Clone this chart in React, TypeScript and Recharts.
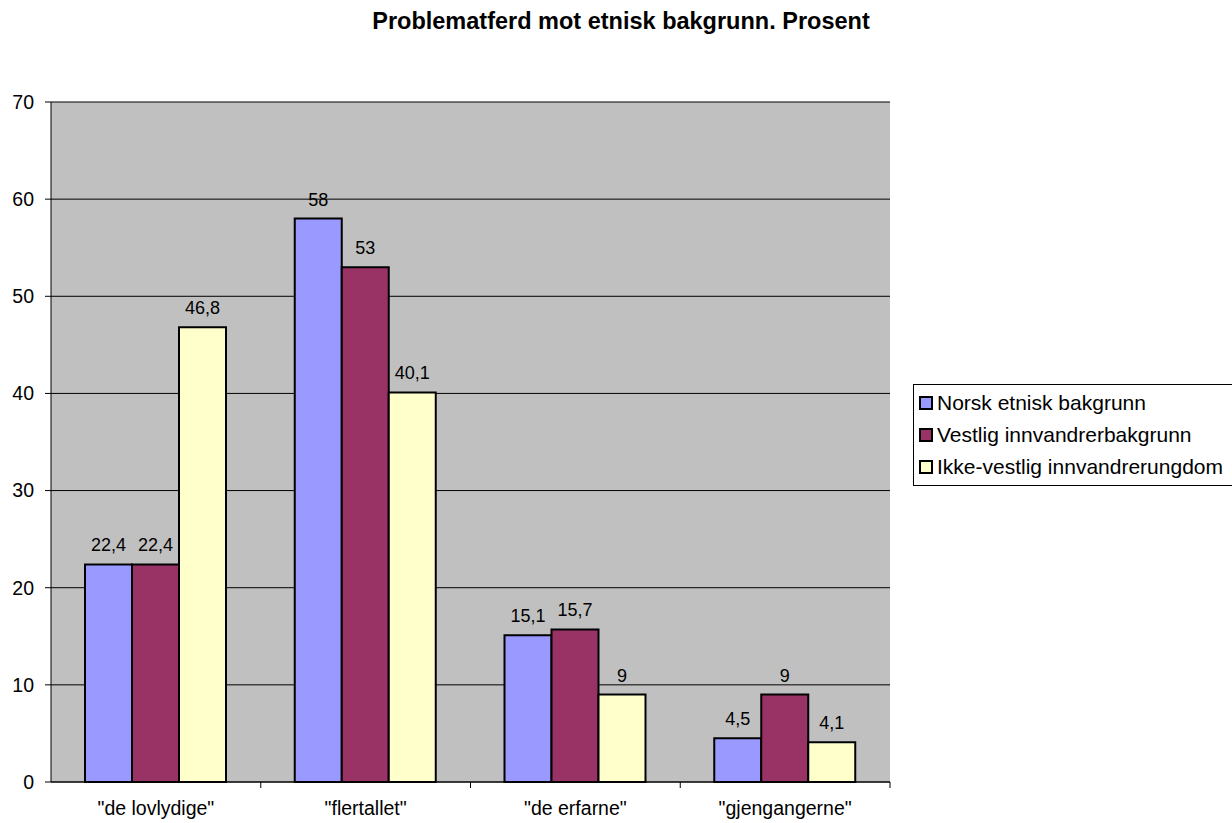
import React from "react";
import { BarChart, Bar, XAxis, YAxis, CartesianGrid, LabelList } from "recharts";

const categories = ['"de lovlydige"', '"flertallet"', '"de erfarne"', '"gjengangerne"'];
const norsk = [22.4, 58, 15.1, 4.5];
const vestlig = [22.4, 53, 15.7, 9];
const ikkeVestlig = [46.8, 40.1, 9, 4.1];
const yTicks = [0, 10, 20, 30, 40, 50, 60, 70];
const seriesNames = ["Norsk etnisk bakgrunn", "Vestlig innvandrerbakgrunn", "Ikke-vestlig innvandrerungdom"];
const seriesColors = ["#9999FF", "#993366", "#FFFFCC"];

const data = categories.map((c, i) => ({
  cat: c,
  norsk: norsk[i],
  vestlig: vestlig[i],
  ikke: ikkeVestlig[i],
}));

const W = 1232;
const H = 823;
const M = { top: 102, right: 342, bottom: 0, left: 0 };
const YW = 51;
const XH = 41;
const PLOT_W = W - M.left - M.right - YW;
const CAT_W = PLOT_W / categories.length;
const FONT = "Liberation Sans, Arial, sans-serif";

const fmt = (v: number) => String(v).replace(".", ",");

const CatTick = (props: any) => {
  const { x, y, payload, index } = props;
  const half = CAT_W / 2;
  return (
    <g>
      {index > 0 && <line x1={x - half} x2={x - half} y1={y - 8} y2={y - 2} stroke="#000" strokeWidth={1} />}
      {index === categories.length - 1 && (
        <line x1={x + half} x2={x + half} y1={y - 8} y2={y - 2} stroke="#000" strokeWidth={1} />
      )}
      <text x={x} y={y + 25} textAnchor="middle" fontSize={19.5} fontFamily={FONT} fill="#000">
        {payload.value}
      </text>
    </g>
  );
};

const LegendBox = () => (
  <div
    style={{
      position: "absolute",
      left: 913,
      top: 384,
      border: "1px solid #000",
      background: "#fff",
      padding: "2px 0 2px 5px",
      fontFamily: FONT,
      fontSize: 21,
      width: 340,
      boxSizing: "border-box",
    }}
  >
    {seriesNames.map((n, i) => (
      <div key={n} style={{ display: "flex", alignItems: "center", height: 32 }}>
        <span
          style={{
            display: "inline-block",
            width: 10,
            height: 10,
            border: "2px solid #000",
            background: seriesColors[i],
            marginRight: 4,
            flexShrink: 0,
          }}
        />
        <span style={{ whiteSpace: "nowrap" }}>{n}</span>
      </div>
    ))}
  </div>
);

const labelStyle = { fontSize: 18, fontFamily: FONT, fill: "#000" };

export default function App() {
  return (
    <div style={{ position: "absolute", left: 0, top: 0, width: W, height: H, background: "#fff", overflow: "hidden" }}>
      <div
        style={{
          position: "absolute",
          left: 0,
          width: 1242,
          top: 8,
          textAlign: "center",
          fontFamily: FONT,
          fontWeight: "bold",
          fontSize: 23.5,
          whiteSpace: "nowrap",
        }}
      >
        Problematferd mot etnisk bakgrunn. Prosent
      </div>
      <BarChart width={W} height={H} data={data} margin={M} barCategoryGap={34} barGap={0}>
        <CartesianGrid vertical={false} fill="#C0C0C0" stroke="#000" strokeWidth={1} fillOpacity={1} />
        <XAxis
          dataKey="cat"
          height={XH}
          axisLine={{ stroke: "#000", strokeWidth: 1 }}
          tickLine={false}
          tick={<CatTick />}
          interval={0}
        />
        <XAxis
          xAxisId="top"
          dataKey="cat"
          orientation="top"
          height={0}
          tick={false}
          tickLine={false}
          axisLine={{ stroke: "#808080", strokeWidth: 2 }}
        />
        <YAxis
          domain={[0, 70]}
          ticks={yTicks}
          width={YW}
          axisLine={{ stroke: "#000", strokeWidth: 1 }}
          tickLine={{ stroke: "#000" }}
          tickSize={6}
          tickMargin={11}
          tick={{ fontSize: 19.5, fontFamily: FONT, fill: "#000" }}
        />
        <YAxis
          yAxisId="right"
          orientation="right"
          domain={[0, 70]}
          width={0}
          tick={false}
          tickLine={false}
          axisLine={{ stroke: "#808080", strokeWidth: 2 }}
        />
        <Bar dataKey="norsk" name={seriesNames[0]} fill={seriesColors[0]} stroke="#000" strokeWidth={2} isAnimationActive={false}>
          <LabelList dataKey="norsk" position="top" offset={13} formatter={(v: any) => fmt(v)} style={labelStyle} />
        </Bar>
        <Bar dataKey="vestlig" name={seriesNames[1]} fill={seriesColors[1]} stroke="#000" strokeWidth={2} isAnimationActive={false}>
          <LabelList dataKey="vestlig" position="top" offset={13} formatter={(v: any) => fmt(v)} style={labelStyle} />
        </Bar>
        <Bar dataKey="ikke" name={seriesNames[2]} fill={seriesColors[2]} stroke="#000" strokeWidth={2} isAnimationActive={false}>
          <LabelList dataKey="ikke" position="top" offset={13} formatter={(v: any) => fmt(v)} style={labelStyle} />
        </Bar>
      </BarChart>
      <LegendBox />
    </div>
  );
}
